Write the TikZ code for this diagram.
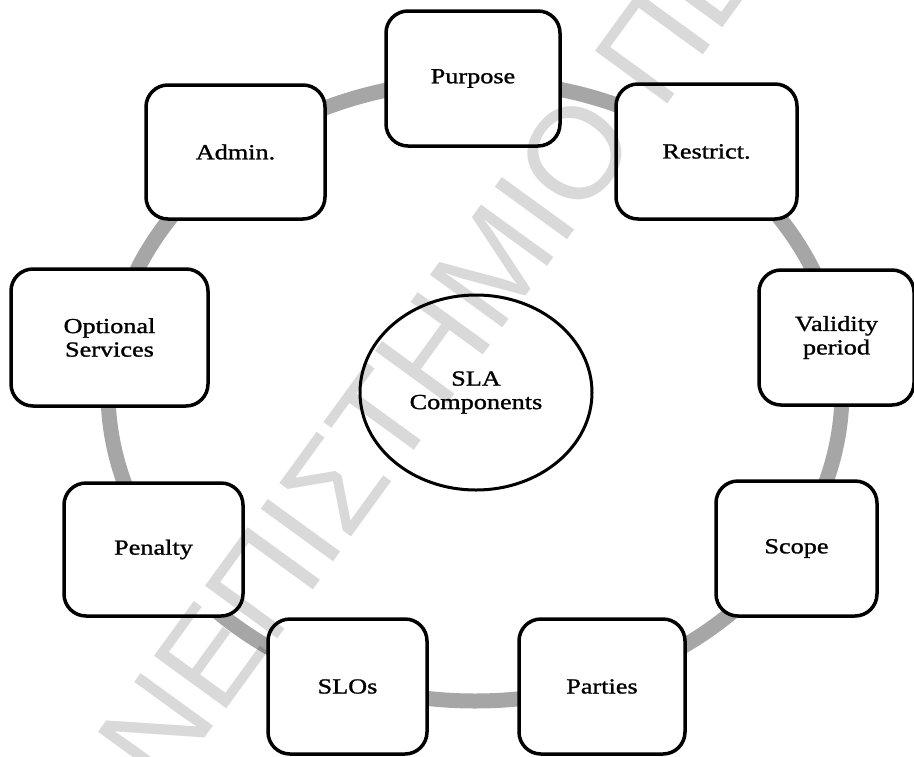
\documentclass[tikz,border=0pt]{standalone}
\usepackage{fontspec}
\setmainfont{Liberation Serif}[FakeStretch=1.22, FakeBold=1.2]
\newfontfamily\wmfont{Liberation Sans}
\usetikzlibrary{shapes.geometric}

\tikzset{
  comp/.style={draw=black, line width=3.5pt, fill=white, rounded corners=22pt,
    align=center, inner sep=2pt, font=\fontsize{21.5}{23.5}\selectfont},
  hub/.style={draw=black, line width=3pt, fill=white, ellipse, inner sep=0pt,
    minimum width=232pt, minimum height=195pt, align=center,
    font=\fontsize{21.5}{23.5}\selectfont},
  ring/.style={draw=black!35, line width=15pt},
  wm/.style={fill=none, text=black, text opacity=0.15, inner sep=0pt,
    rotate=54, font=\wmfont\fontsize{130}{130}\selectfont}
}

\begin{document}
\begin{tikzpicture}[x=1pt, y=-1pt]
  \useasboundingbox (0,0) rectangle (914,756);

  % cycle ring behind the components
  \coordinate (c) at (475,391);
  \draw[ring] (c) ellipse [x radius=367, y radius=310];

  % components around the ring
  \node[comp, minimum width=174pt, minimum height=135pt] (purpose)  at (473,78.5)   {Purpose};
  \node[comp, minimum width=181pt, minimum height=135pt] (restrict) at (706.5,151.5) {Restrict.};
  \node[comp, minimum width=155pt, minimum height=135pt] (validity) at (836.5,337.5) {Validity\\period};
  \node[comp, minimum width=161pt, minimum height=135pt] (scope)    at (796.5,548.5) {Scope};
  \node[comp, minimum width=166pt, minimum height=135pt] (parties)  at (602,686.5)   {Parties};
  \node[comp, minimum width=159pt, minimum height=135pt] (slos)     at (347.5,686.5) {SLOs};
  \node[comp, minimum width=179pt, minimum height=133pt] (penalty)  at (153.5,549.5) {Penalty};
  \node[comp, minimum width=197pt, minimum height=137pt] (optional) at (109.5,337.5) {Optional\\Services};
  \node[comp, minimum width=179pt, minimum height=134pt] (admin)    at (235.5,152)   {Admin.};

  % centre
  \node[hub] (sla) at (476,392.5) {SLA\\Components};

  % watermark
  \node[wm, anchor=base east] (wma) at (641,138) {ΠΑΝΕΠΙΣΤΗΜΙΟ};
  \node[wm, anchor=base west] (wmb) at (661,113) {ΠΕΙΡΑΙΩΣ};
\end{tikzpicture}
\end{document}
